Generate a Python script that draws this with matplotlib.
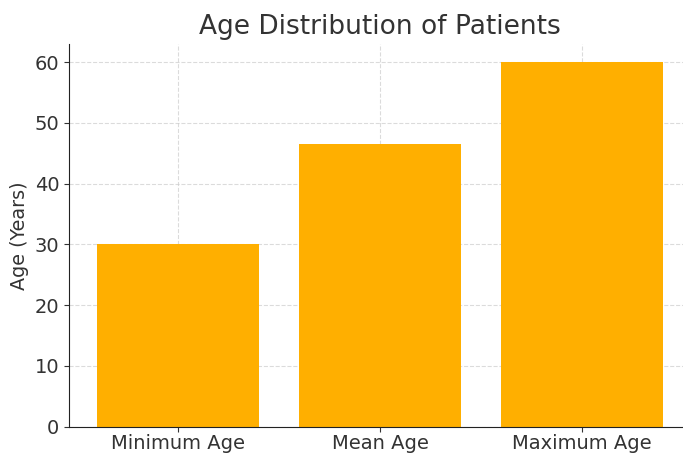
import matplotlib
matplotlib.use("Agg")
import matplotlib.pyplot as plt

# Summary statistics of patient ages
categories = ["Minimum Age", "Mean Age", "Maximum Age"]
ages = [30, 46.5, 60]

bar_color = "#FFAF00"
text_color = "#333333"

fig = plt.figure(figsize=(6.83, 4.53), dpi=100)
ax = fig.add_axes([0.101, 0.058, 0.9107, 0.845])

ax.bar(categories, ages, color=bar_color, width=0.8, zorder=2)
ax.grid(True, linestyle="--", color="#cccccc", linewidth=0.8, zorder=0)
for line in ax.get_xgridlines() + ax.get_ygridlines():
    line.set_zorder(3)
    line.set_alpha(0.7)

ax.set_title("Age Distribution of Patients", fontsize=19, color=text_color, pad=7)
ax.set_ylabel("Age (Years)", fontsize=13.8, color=text_color)
ax.tick_params(axis="both", labelsize=14, colors=text_color)
ax.tick_params(axis="x", pad=1.5)
ax.set_ylim(0, 63)
for side in ("top", "right"):
    ax.spines[side].set_visible(False)
ax.spines["left"].set_color("#222222")
ax.spines["bottom"].set_color("#222222")

fig.savefig("out.png", dpi=100)
